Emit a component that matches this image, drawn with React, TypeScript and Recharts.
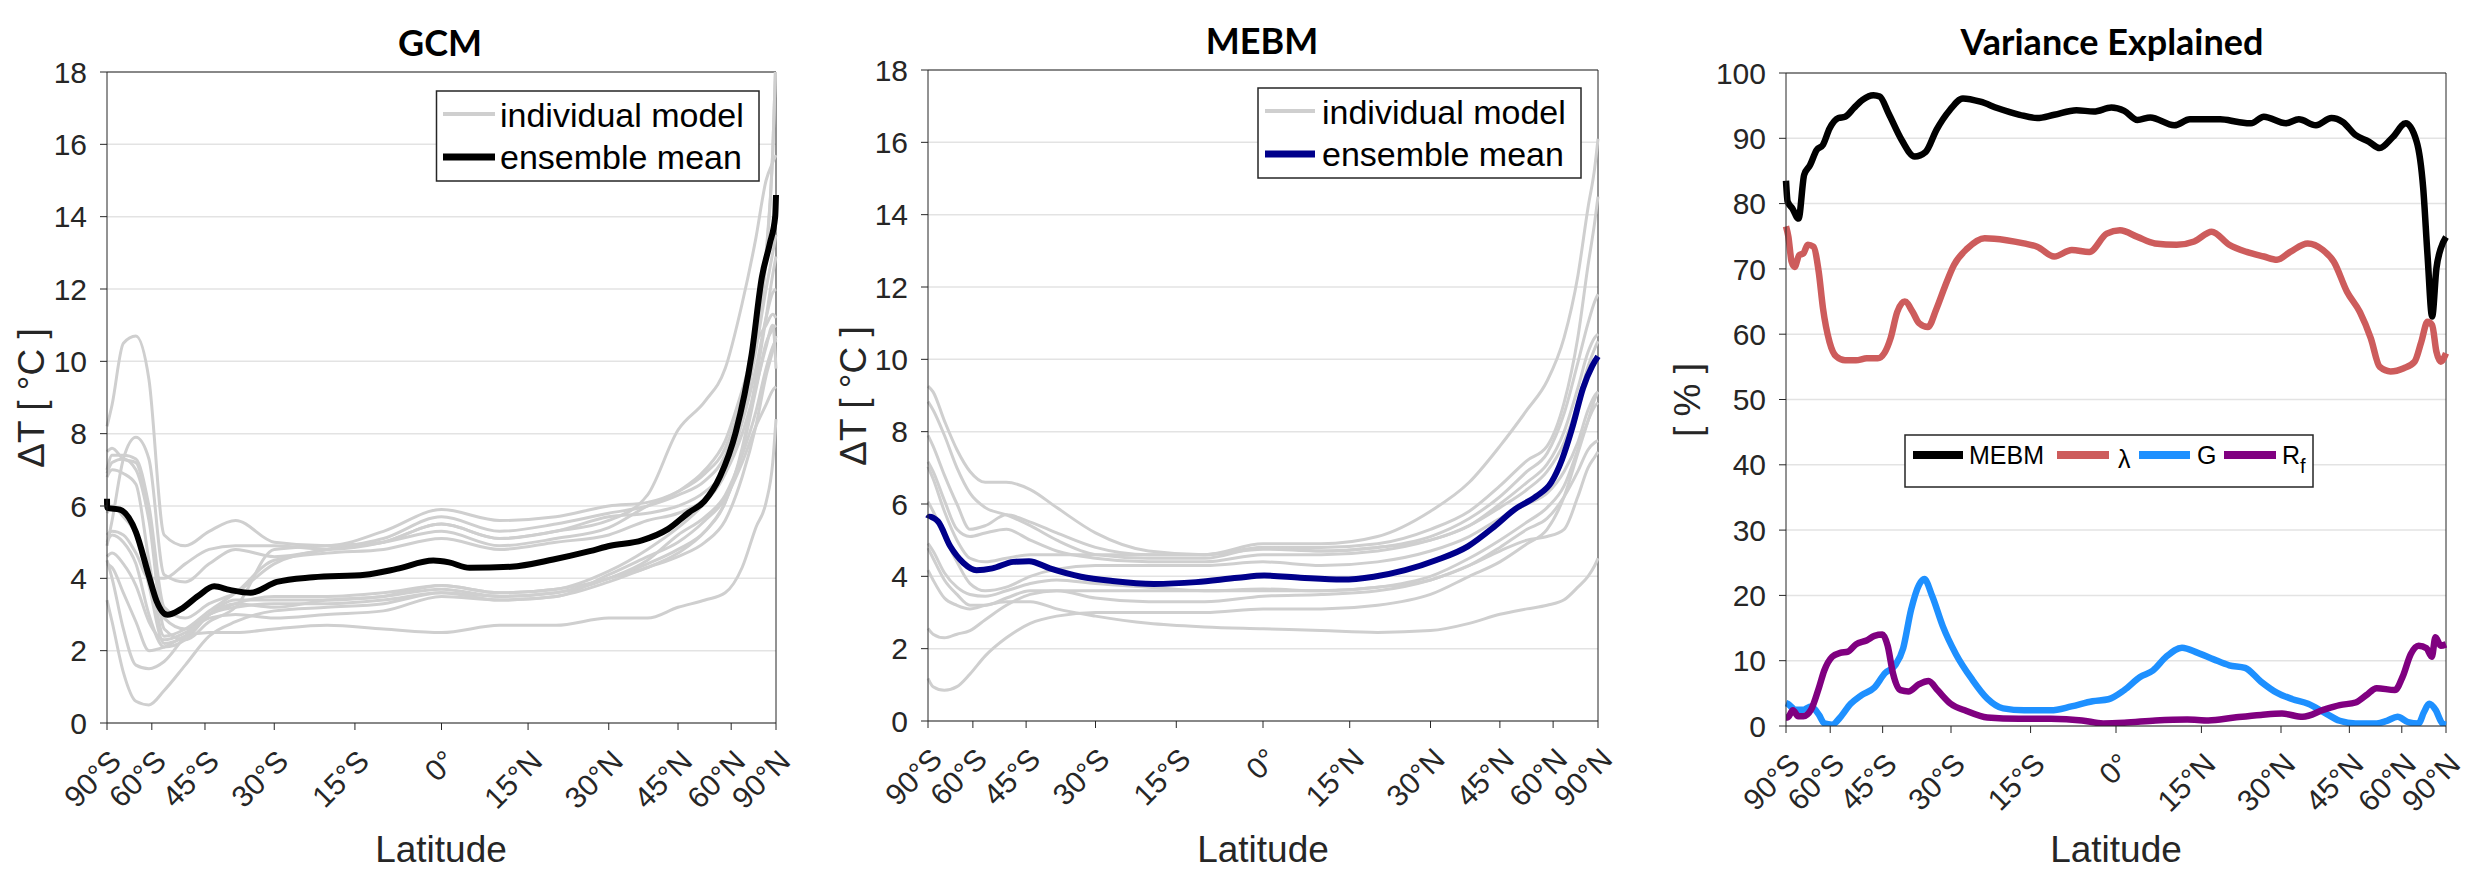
import { CartesianGrid, Line, LineChart, ReferenceLine, XAxis, YAxis } from 'recharts'

// latitude ticks (x axis is sine of latitude, i.e. area weighted)
const LAT_TICKS = [-90, -60, -45, -30, -15, 0, 15, 30, 45, 60, 90]
const LAT_LABELS = ['90°S', '60°S', '45°S', '30°S', '15°S', '0°', '15°N', '30°N', '45°N', '60°N', '90°N']
const DT_TICKS = [0, 2, 4, 6, 8, 10, 12, 14, 16, 18]
const PCT_TICKS = [0, 10, 20, 30, 40, 50, 60, 70, 80, 90, 100]

// latitudes at which the individual model curves were read
const MODEL_LATS = [-90, -80, -72, -66, -61, -56, -50, -44, -38, -30, -20, -10, 0, 10, 20, 30, 38, 45, 52, 58, 64, 70, 76, 82, 90]

const GCM_MODELS: number[][] = [
  [8.2, 8.8, 10.5, 10.7, 9.5, 5.2, 4.9, 5.3, 5.6, 5.0, 4.9, 5.3, 5.9, 5.6, 5.7, 6.0, 6.1, 6.4, 6.9, 7.6, 9.0, 10.8, 13.0, 15.8, 18.5],
  [4.9, 5.6, 7.3, 7.9, 7.3, 4.1, 3.9, 4.4, 4.8, 4.6, 4.8, 5.1, 5.7, 5.3, 5.5, 5.8, 6.0, 6.3, 6.7, 7.4, 8.8, 10.5, 12.8, 15.8, 18.5],
  [7.5, 7.6, 7.3, 7.2, 5.8, 2.9, 2.6, 3.0, 3.3, 3.5, 3.5, 3.6, 3.8, 3.6, 3.7, 4.0, 4.4, 4.8, 5.3, 6.1, 7.6, 9.5, 11.2, 12.4, 12.9],
  [7.0, 7.4, 7.4, 7.3, 6.0, 3.2, 2.9, 3.3, 3.6, 4.4, 4.8, 5.0, 5.5, 5.1, 5.3, 5.6, 6.3, 8.1, 8.9, 9.8, 11.6, 13.4, 15.0, 15.5, 15.7],
  [6.9, 7.2, 7.3, 7.0, 5.6, 2.6, 2.3, 2.8, 3.2, 4.8, 4.9, 5.0, 5.3, 4.9, 5.1, 5.4, 6.0, 6.4, 7.0, 7.8, 9.2, 10.5, 11.0, 11.3, 11.2],
  [5.0, 5.2, 5.0, 4.4, 3.0, 2.1, 2.3, 3.0, 3.4, 3.4, 3.4, 3.5, 3.7, 3.5, 3.6, 4.0, 4.5, 5.2, 5.7, 6.3, 7.4, 8.6, 9.8, 10.4, 10.6],
  [4.6, 4.7, 4.4, 3.8, 2.8, 2.3, 2.5, 2.9, 3.0, 2.9, 3.0, 3.1, 3.5, 3.4, 3.5, 4.1, 4.6, 5.0, 5.6, 6.2, 7.2, 8.2, 8.8, 9.2, 9.3],
  [4.4, 4.3, 3.6, 2.8, 2.0, 2.1, 2.4, 2.5, 2.5, 2.6, 2.7, 2.6, 2.5, 2.7, 2.7, 2.9, 2.9, 3.2, 3.4, 3.6, 4.3, 5.4, 6.1, 7.2, 8.4],
  [3.4, 2.8, 1.4, 0.6, 0.5, 0.9, 1.6, 2.4, 2.8, 3.1, 3.2, 3.3, 3.6, 3.5, 3.6, 4.0, 4.3, 4.7, 5.3, 6.1, 7.5, 9.2, 10.5, 10.9, 11.0],
  [4.5, 4.0, 2.6, 1.6, 1.5, 1.7, 2.4, 3.0, 3.3, 3.2, 3.4, 3.5, 3.8, 3.6, 3.7, 4.2, 4.8, 5.4, 6.1, 6.9, 8.4, 10.3, 12.0, 13.0, 13.5],
  [5.2, 5.3, 5.2, 4.7, 4.0, 4.0, 4.4, 4.8, 4.9, 4.9, 4.8, 5.0, 5.5, 5.1, 5.3, 5.7, 5.8, 6.0, 6.4, 7.0, 8.3, 9.8, 11.2, 11.9, 12.0],
  [6.8, 7.0, 6.9, 6.6, 4.5, 2.4, 2.6, 3.1, 3.6, 4.5, 4.7, 4.8, 5.1, 4.8, 5.0, 5.2, 5.6, 5.8, 6.2, 6.9, 8.0, 9.3, 10.4, 11.0, 9.8],
  [5.8, 6.0, 5.7, 5.2, 3.8, 2.2, 2.4, 3.0, 3.2, 3.3, 3.3, 3.4, 3.6, 3.4, 3.5, 3.9, 4.3, 4.6, 5.0, 5.6, 6.8, 8.2, 9.6, 10.3, 10.7],
]

const GCM_MEAN: [number, number][] = [
  [-90, 6.2], [-88, 5.95], [-74, 5.9], [-66, 5.28], [-61, 4.06], [-58.4, 3.37], [-55, 2.99], [-51.3, 3.14],
  [-46.6, 3.52], [-42.8, 3.78], [-39.3, 3.68], [-34.8, 3.6], [-29.5, 3.9], [-22.6, 4.03], [-13.2, 4.1],
  [-7.7, 4.26], [-1.4, 4.49], [1.3, 4.44], [4.8, 4.29], [12, 4.32], [19.5, 4.52], [26.3, 4.75], [30.3, 4.9],
  [36.8, 5.05], [42.6, 5.36], [47.7, 5.82], [51.8, 6.13], [56.4, 6.82], [61.6, 8.04], [68, 10.19],
  [73.3, 12.33], [78.9, 13.25], [86, 14.0], [90, 14.6],
]

const MEBM_MODELS: number[][] = [
  [9.26, 9.1, 8.3, 7.5, 6.9, 6.6, 6.6, 6.4, 5.9, 5.2, 4.7, 4.6, 4.9, 4.9, 5.1, 5.8, 6.6, 7.6, 8.6, 9.4, 10.6, 12.3, 14.2, 15.3, 16.1],
  [8.83, 8.6, 7.9, 7.0, 6.3, 5.9, 5.7, 5.4, 5.0, 4.6, 4.5, 4.5, 4.8, 4.8, 4.9, 5.3, 5.8, 6.5, 7.2, 7.6, 8.8, 10.6, 12.6, 13.8, 14.5],
  [7.9, 7.6, 6.8, 6.0, 5.3, 5.4, 5.7, 5.5, 5.2, 4.8, 4.6, 4.6, 4.8, 4.7, 4.8, 5.1, 5.6, 6.2, 6.9, 7.4, 8.5, 9.9, 11.0, 11.6, 11.8],
  [7.17, 6.9, 6.1, 5.3, 5.1, 5.2, 5.3, 5.0, 4.7, 4.5, 4.4, 4.4, 4.6, 4.6, 4.7, 5.0, 5.4, 6.0, 6.6, 7.1, 8.0, 9.2, 10.2, 10.6, 10.7],
  [7.03, 6.7, 5.8, 5.0, 4.5, 4.4, 4.5, 4.6, 4.6, 4.6, 4.6, 4.6, 4.75, 4.7, 4.8, 5.0, 5.4, 5.9, 6.4, 6.9, 7.7, 8.8, 9.8, 10.3, 10.5],
  [6.06, 5.8, 5.1, 4.4, 3.8, 3.6, 3.7, 4.0, 4.2, 4.3, 4.3, 4.3, 4.4, 4.3, 4.4, 4.7, 5.1, 5.6, 6.0, 6.3, 6.9, 7.7, 8.6, 9.0, 9.1],
  [4.91, 4.7, 4.1, 3.7, 3.5, 3.45, 3.6, 3.8, 3.9, 3.8, 3.7, 3.6, 3.6, 3.6, 3.7, 4.0, 4.5, 5.0, 5.5, 5.9, 6.5, 7.5, 8.3, 8.7, 8.8],
  [4.78, 4.5, 3.9, 3.5, 3.2, 3.2, 3.4, 3.6, 3.6, 3.4, 3.3, 3.3, 3.45, 3.5, 3.6, 3.9, 4.3, 4.8, 5.3, 5.6, 6.2, 6.9, 7.5, 7.7, 7.75],
  [4.17, 3.9, 3.4, 3.2, 3.1, 3.2, 3.3, 3.3, 3.1, 2.9, 2.7, 2.6, 2.55, 2.5, 2.45, 2.5, 2.7, 2.95, 3.1, 3.2, 3.35, 3.7, 4.0, 4.3, 4.5],
  [2.56, 2.4, 2.3, 2.4, 2.5, 2.8, 3.2, 3.5, 3.6, 3.6, 3.6, 3.6, 3.65, 3.6, 3.7, 3.9, 4.3, 4.7, 5.0, 5.1, 5.3, 6.2, 7.0, 7.3, 7.44],
  [1.18, 0.95, 0.85, 0.95, 1.3, 1.8, 2.3, 2.7, 2.9, 3.0, 3.0, 3.0, 3.1, 3.1, 3.2, 3.5, 4.0, 4.4, 4.9, 5.3, 6.2, 7.4, 8.3, 8.9, 9.1],
]

const MEBM_MEAN: [number, number][] = [
  [-90, 5.6], [-85, 5.65], [-76, 5.52], [-69, 4.83], [-63.4, 4.37], [-58.8, 4.17], [-53.9, 4.22], [-48.2, 4.4],
  [-44.3, 4.42], [-39.5, 4.22], [-32.9, 3.99], [-26.7, 3.87], [-19, 3.79], [-11.5, 3.84], [-4.3, 3.96],
  [0.2, 4.02], [6.4, 3.96], [13.7, 3.91], [19.3, 3.99], [25.1, 4.17], [31.2, 4.45], [37.7, 4.83],
  [43.6, 5.37], [48.8, 5.86], [54.6, 6.21], [59.4, 6.6], [63.1, 7.21], [67.5, 8.13], [72.8, 9.2],
  [79.4, 9.82], [90, 10.08],
]

// variance explained, [sin(latitude), percent]
const VE_MEBM: [number, number][] = [
  [-1, 83.5], [-0.995, 80.3], [-0.981, 79.3], [-0.962, 77.7], [-0.945, 84.4], [-0.927, 85.9], [-0.907, 88.2],
  [-0.888, 89.0], [-0.868, 91.5], [-0.841, 93.1], [-0.821, 93.3], [-0.795, 94.6], [-0.768, 95.9], [-0.735, 96.6],
  [-0.716, 96.4], [-0.689, 93.8], [-0.649, 89.7], [-0.61, 87.2], [-0.577, 87.9], [-0.544, 91.3], [-0.504, 94.3],
  [-0.464, 96.1], [-0.411, 95.6], [-0.358, 94.6], [-0.292, 93.6], [-0.239, 93.1], [-0.187, 93.6], [-0.12, 94.3],
  [-0.067, 94.1], [-0.014, 94.7], [0.025, 94.2], [0.065, 92.8], [0.104, 93.2], [0.177, 92.0], [0.224, 92.9],
  [0.316, 92.9], [0.37, 92.5], [0.409, 92.3], [0.448, 93.3], [0.515, 92.3], [0.554, 92.9], [0.606, 92.0],
  [0.653, 93.1], [0.687, 92.5], [0.726, 90.5], [0.766, 89.5], [0.799, 88.5], [0.839, 90.2], [0.878, 92.3],
  [0.911, 89.5], [0.931, 82.3], [0.944, 72.1], [0.958, 62.7], [0.971, 70.1], [0.984, 73.1], [1.0, 74.9],
]

const VE_LAMBDA: [number, number][] = [
  [-1, 76.5], [-0.993, 75.0], [-0.983, 71.1], [-0.974, 70.3], [-0.96, 72.1], [-0.947, 72.4], [-0.934, 73.7],
  [-0.917, 73.4], [-0.901, 69.6], [-0.888, 64.0], [-0.868, 58.8], [-0.848, 56.6], [-0.821, 56.0], [-0.788, 56.0],
  [-0.755, 56.3], [-0.722, 56.3], [-0.702, 57.1], [-0.683, 59.4], [-0.663, 63.4], [-0.64, 65.0], [-0.616, 63.4],
  [-0.597, 61.7], [-0.57, 61.1], [-0.544, 63.9], [-0.517, 67.5], [-0.491, 70.6], [-0.451, 73.1], [-0.398, 74.7],
  [-0.332, 74.4], [-0.279, 73.9], [-0.239, 73.4], [-0.187, 71.9], [-0.134, 72.9], [-0.081, 72.6], [-0.028, 75.4],
  [0.012, 75.9], [0.065, 74.9], [0.118, 73.9], [0.184, 73.7], [0.237, 74.2], [0.29, 75.7], [0.343, 73.7],
  [0.396, 72.6], [0.448, 71.9], [0.488, 71.4], [0.528, 72.6], [0.581, 73.9], [0.627, 72.9], [0.66, 71.1],
  [0.7, 66.5], [0.739, 63.4], [0.772, 59.4], [0.799, 55.0], [0.832, 54.3], [0.872, 54.8], [0.905, 55.8],
  [0.925, 58.8], [0.944, 61.9], [0.958, 61.4], [0.971, 57.3], [0.984, 55.8], [1.0, 57.1],
]

const VE_G: [number, number][] = [
  [-1, 3.5], [-0.995, 3.4], [-0.971, 2.5], [-0.947, 2.5], [-0.924, 3.0], [-0.9, 1.7], [-0.884, 0.4], [-0.86, 0.2],
  [-0.836, 1.3], [-0.804, 3.4], [-0.772, 4.7], [-0.732, 5.9], [-0.7, 8.1], [-0.669, 9.3], [-0.645, 11.9],
  [-0.621, 17.8], [-0.597, 21.6], [-0.581, 22.5], [-0.557, 19.9], [-0.525, 15.3], [-0.485, 11.0], [-0.437, 7.2],
  [-0.39, 4.2], [-0.342, 2.7], [-0.278, 2.4], [-0.198, 2.4], [-0.135, 3.0], [-0.071, 3.8], [-0.023, 4.1],
  [0.025, 5.5], [0.073, 7.5], [0.112, 8.5], [0.152, 10.6], [0.2, 12.0], [0.248, 11.2], [0.296, 10.2],
  [0.343, 9.3], [0.391, 8.9], [0.439, 6.8], [0.487, 5.1], [0.535, 4.1], [0.582, 3.4], [0.63, 2.1], [0.678, 0.8],
  [0.726, 0.4], [0.79, 0.4], [0.821, 0.8], [0.853, 1.4], [0.885, 0.6], [0.917, 0.4], [0.933, 2.1], [0.949, 3.4],
  [0.968, 2.5], [0.989, 0.4], [1.0, 0.2],
]

const VE_RF: [number, number][] = [
  [-1, 1.3], [-0.995, 1.3], [-0.979, 2.4], [-0.963, 1.5], [-0.947, 1.5], [-0.924, 2.5], [-0.9, 5.9], [-0.884, 8.5],
  [-0.86, 10.6], [-0.836, 11.2], [-0.812, 11.4], [-0.788, 12.5], [-0.756, 13.1], [-0.732, 13.8], [-0.708, 14.0],
  [-0.692, 12.3], [-0.676, 8.1], [-0.653, 5.5], [-0.629, 5.3], [-0.597, 6.4], [-0.568, 6.9], [-0.541, 5.5],
  [-0.501, 3.4], [-0.453, 2.3], [-0.39, 1.3], [-0.294, 1.1], [-0.198, 1.1], [-0.103, 0.85], [-0.039, 0.4],
  [0.025, 0.5], [0.12, 0.85], [0.216, 1.0], [0.28, 0.85], [0.359, 1.3], [0.439, 1.7], [0.503, 1.9], [0.566, 1.4],
  [0.63, 2.5], [0.678, 3.2], [0.726, 3.6], [0.758, 4.7], [0.79, 5.8], [0.845, 5.5], [0.869, 7.6], [0.893, 11.0],
  [0.917, 12.3], [0.941, 11.9], [0.957, 10.6], [0.968, 13.6], [0.984, 12.3], [1.0, 12.5],
]

const FONT = '"Liberation Sans", Arial, Helvetica, sans-serif'
const TITLE_FONT = 'Lato, "Open Sans", sans-serif'
const TEXT = '#262626'
const AXIS = '#262626'
const GRID = '#e3e3e3'
const MODEL_GREY = '#cfcfcf'

const sinLat = (lat: number) => Math.sin((lat * Math.PI) / 180)
const MU_TICKS = LAT_TICKS.map(sinLat)

const fromLats = (lats: number[], vals: number[]) => lats.map((lat, i) => ({ mu: sinLat(lat), v: vals[i] }))
const fromLatPairs = (pairs: [number, number][]) => pairs.map(([lat, v]) => ({ mu: sinLat(lat), v }))
const fromMuPairs = (pairs: [number, number][]) => pairs.map(([mu, v]) => ({ mu, v }))

function LatTick(props: any) {
  const { x, y, payload } = props
  const i = MU_TICKS.findIndex((m) => Math.abs(m - payload.value) < 1e-6)
  const bx = x + 16
  const by = y + 31
  return (
    <text x={bx} y={by} transform={`rotate(-45 ${bx} ${by})`} textAnchor="end" fontSize={30} fill={TEXT} fontFamily={FONT}>
      {LAT_LABELS[i]}
    </text>
  )
}

interface PanelProps {
  left: number
  width: number
  top: number
  right: number
  yWidth: number
  plotLeft: number
  axisHeight: number
  yMax: number
  yTicks: number[]
  children: React.ReactNode
}

function Panel({ left, width, top, right, yWidth, plotLeft, axisHeight, yMax, yTicks, children }: PanelProps) {
  return (
    <div style={{ position: 'absolute', left, top: 0 }}>
      <LineChart width={width} height={869} margin={{ top, right, bottom: 0, left: plotLeft - yWidth }}>
        <CartesianGrid vertical={false} stroke={GRID} strokeWidth={1.5} />
        <XAxis
          dataKey="mu"
          type="number"
          domain={[-1, 1]}
          ticks={MU_TICKS}
          interval={0}
          height={axisHeight}
          tickSize={7}
          tickMargin={2}
          axisLine={{ stroke: AXIS }}
          tickLine={{ stroke: AXIS }}
          tick={(p: any) => <LatTick {...p} />}
        />
        <YAxis
          type="number"
          domain={[0, yMax]}
          ticks={yTicks}
          interval={0}
          allowDataOverflow
          width={yWidth}
          tickSize={7}
          tickMargin={13}
          axisLine={{ stroke: AXIS }}
          tickLine={{ stroke: AXIS }}
          tick={{ fontSize: 30, fill: TEXT, fontFamily: FONT }}
        />
        <ReferenceLine y={yMax} stroke={AXIS} strokeWidth={1} />
        <ReferenceLine x={1} stroke={AXIS} strokeWidth={1} />
        {children}
      </LineChart>
    </div>
  )
}

function modelLines(models: number[][], prefix: string) {
  return models.map((vals, i) => (
    <Line
      key={`${prefix}${i}`}
      name={`${prefix}${i}`}
      data={fromLats(MODEL_LATS, vals)}
      dataKey="v"
      type="monotone"
      stroke={MODEL_GREY}
      strokeWidth={3}
      dot={false}
      activeDot={false}
      isAnimationActive={false}
    />
  ))
}

function veLine(name: string, pairs: [number, number][], color: string) {
  return (
    <Line
      key={name}
      name={name}
      data={fromMuPairs(pairs)}
      dataKey="v"
      type="monotone"
      stroke={color}
      strokeWidth={6.5}
      strokeLinejoin="round"
      dot={false}
      activeDot={false}
      isAnimationActive={false}
    />
  )
}

function Overlay() {
  const lbl = { fontFamily: FONT, fill: TEXT }
  const title = { fontFamily: TITLE_FONT, fontWeight: 700, fontSize: 36, fill: '#000' }
  return (
    <svg width={2465} height={869} style={{ position: 'absolute', left: 0, top: 0, pointerEvents: 'none' }}>
      <text x={440} y={56} textAnchor="middle" {...title}>GCM</text>
      <text x={1262} y={54} textAnchor="middle" {...title}>MEBM</text>
      <text x={2112} y={55} textAnchor="middle" {...title}>Variance Explained</text>

      <text transform="translate(44 398) rotate(-90)" textAnchor="middle" fontSize={37} {...lbl}>ΔT [ °C ]</text>
      <text transform="translate(866 396) rotate(-90)" textAnchor="middle" fontSize={37} {...lbl}>ΔT [ °C ]</text>
      <text transform="translate(1700 400) rotate(-90)" textAnchor="middle" fontSize={37} {...lbl}>[ % ]</text>

      <text x={441} y={862} textAnchor="middle" fontSize={37} {...lbl}>Latitude</text>
      <text x={1263} y={862} textAnchor="middle" fontSize={37} {...lbl}>Latitude</text>
      <text x={2116} y={862} textAnchor="middle" fontSize={37} {...lbl}>Latitude</text>

      {/* GCM legend */}
      <rect x={436.5} y={91} width={322.5} height={90} fill="#fff" stroke={AXIS} strokeWidth={1.5} />
      <line x1={443} x2={495} y1={114} y2={114} stroke={MODEL_GREY} strokeWidth={4} />
      <line x1={443} x2={495} y1={157} y2={157} stroke="#000" strokeWidth={7} />
      <text x={500} y={127} fontSize={34} fontFamily={FONT} fill="#000">individual model</text>
      <text x={500} y={169} fontSize={34} fontFamily={FONT} fill="#000">ensemble mean</text>

      {/* MEBM legend */}
      <rect x={1258} y={88} width={323} height={90} fill="#fff" stroke={AXIS} strokeWidth={1.5} />
      <line x1={1265} x2={1315} y1={111} y2={111} stroke={MODEL_GREY} strokeWidth={4} />
      <line x1={1265} x2={1315} y1={154} y2={154} stroke="#00008b" strokeWidth={7} />
      <text x={1322} y={124} fontSize={34} fontFamily={FONT} fill="#000">individual model</text>
      <text x={1322} y={166} fontSize={34} fontFamily={FONT} fill="#000">ensemble mean</text>

      {/* variance legend */}
      <rect x={1905} y={435} width={408} height={52} fill="#fff" stroke={AXIS} strokeWidth={1.5} />
      <line x1={1913} x2={1963} y1={455} y2={455} stroke="#000" strokeWidth={8} />
      <text x={1969} y={464} fontSize={25} fontFamily={FONT} fill="#000">MEBM</text>
      <line x1={2057} x2={2109} y1={455} y2={455} stroke="#cd5c5c" strokeWidth={8} />
      <text x={2118} y={468} fontSize={25} fontFamily={FONT} fill="#000">λ</text>
      <line x1={2139} x2={2190} y1={455} y2={455} stroke="#1e90ff" strokeWidth={8} />
      <text x={2197} y={464} fontSize={25} fontFamily={FONT} fill="#000">G</text>
      <line x1={2224} x2={2276} y1={455} y2={455} stroke="#800080" strokeWidth={8} />
      <text x={2282} y={464} fontSize={25} fontFamily={FONT} fill="#000">
        R<tspan fontSize={20} dy={9}>f</tspan>
      </text>
    </svg>
  )
}

export default function App() {
  return (
    <div style={{ position: 'absolute', left: 0, top: 0, width: 2465, height: 869, background: '#fff' }}>
      <Panel left={0} width={800} top={72} right={24} yWidth={70} plotLeft={107} axisHeight={146} yMax={18} yTicks={DT_TICKS}>
        {modelLines(GCM_MODELS, 'gcm')}
        <Line
          name="gcmMean"
          data={fromLatPairs(GCM_MEAN)}
          dataKey="v"
          type="monotone"
          stroke="#000"
          strokeWidth={6}
          dot={false}
          activeDot={false}
          isAnimationActive={false}
        />
      </Panel>
      <Panel left={820} width={800} top={70} right={22} yWidth={70} plotLeft={108} axisHeight={148} yMax={18} yTicks={DT_TICKS}>
        {modelLines(MEBM_MODELS, 'mebm')}
        <Line
          name="mebmMean"
          data={fromLatPairs(MEBM_MEAN)}
          dataKey="v"
          type="monotone"
          stroke="#00008b"
          strokeWidth={6}
          dot={false}
          activeDot={false}
          isAnimationActive={false}
        />
      </Panel>
      <Panel left={1640} width={825} top={73} right={19} yWidth={90} plotLeft={146} axisHeight={143} yMax={100} yTicks={PCT_TICKS}>
        {veLine('MEBM', VE_MEBM, '#000')}
        {veLine('lambda', VE_LAMBDA, '#cd5c5c')}
        {veLine('G', VE_G, '#1e90ff')}
        {veLine('Rf', VE_RF, '#800080')}
      </Panel>
      <Overlay />
    </div>
  )
}
